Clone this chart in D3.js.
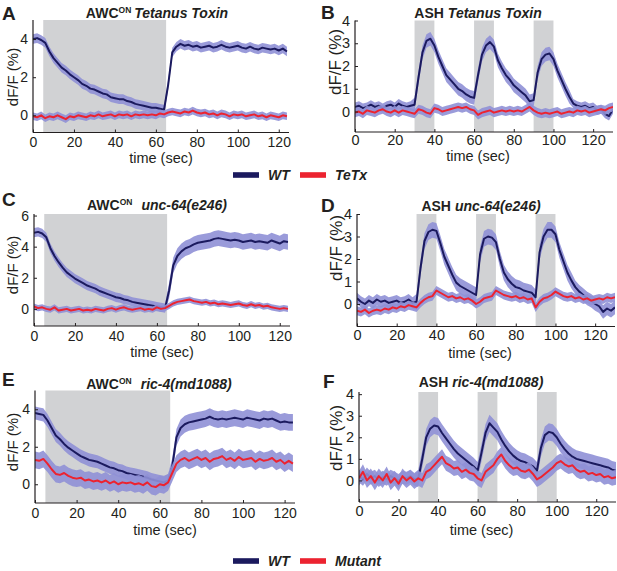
<!DOCTYPE html>
<html>
<meta charset="utf-8">
<style>
  body { margin: 0; background: #fff; }
  text { font-family: Arial, "Liberation Sans", sans-serif; fill: #231f20; }
</style>
<body>
<script src="https://d3js.org/d3.v7.min.js"></script>
<script>
// ---- values (dF/F %, one sample every 2 s) ----
const sampleStep = 2;

const awcStim = [[5, 65]];
const ashStim = [[30, 40], [60, 70], [90, 100]];

const awcXTicks = [0, 20, 40, 60, 80, 100, 120];
const ashXTicks = [0, 20, 40, 60, 80, 100, 120];

// A  AWC-ON  Tetanus Toxin
const aWT = [4.0,4.05,3.95,3.8,3.35,3.0,2.75,2.5,2.35,2.15,2.0,1.85,1.65,1.55,1.4,1.35,1.25,1.15,1.1,0.95,
  0.9,0.85,0.85,0.75,0.7,0.6,0.55,0.5,0.45,0.4,0.4,0.35,0.3,1.6,3.3,3.6,3.75,3.65,3.7,3.6,
  3.65,3.55,3.6,3.65,3.55,3.6,3.7,3.6,3.55,3.6,3.65,3.55,3.5,3.6,3.5,3.45,3.55,3.5,3.45,3.5,3.4,3.5,3.35];
const aMut = [-0.05,-0.1,0.0,-0.15,-0.05,-0.1,0.0,-0.1,-0.2,-0.05,-0.1,0.0,-0.05,-0.1,0.0,-0.05,0.05,-0.05,0.0,0.05,
  -0.05,0.05,0.0,0.05,-0.05,0.05,0.0,0.05,0.0,0.05,0.0,0.1,0.05,0.15,0.2,0.15,0.1,0.2,0.15,0.25,
  0.15,0.1,0.15,0.05,0.1,0.0,0.1,0.05,-0.05,0.05,0.0,0.05,-0.05,0.0,0.05,-0.05,0.0,-0.1,0.0,-0.05,-0.1,0.0,-0.05];

// B  ASH  Tetanus Toxin
const bWT = [0.2,0.25,0.15,0.2,0.3,0.2,0.25,0.15,0.25,0.3,0.2,0.35,0.25,0.2,0.25,0.3,1.5,2.6,3.1,3.2,
  2.9,2.4,2.0,1.6,1.4,1.2,1.0,0.9,0.75,0.65,0.6,1.6,2.5,2.9,3.05,2.85,2.25,1.9,1.6,1.4,
  1.15,1.0,0.85,0.7,0.45,0.5,1.7,2.3,2.5,2.55,2.3,1.8,1.4,1.0,0.65,0.35,0.25,0.2,0.25,0.15,
  0.2,0.05,0.1,-0.1,-0.2,0.1];
const bMut = [-0.05,0.0,-0.1,0.05,0.0,-0.05,0.05,0.1,0.0,-0.05,0.05,-0.05,0.05,0.0,-0.05,-0.1,0.1,0.05,-0.05,-0.1,
  0.15,0.1,0.0,0.05,0.1,0.15,0.2,0.15,0.2,0.1,0.05,-0.15,-0.05,0.0,0.05,-0.05,0.0,0.05,0.0,0.05,
  0.0,0.05,0.0,0.1,0.2,0.05,-0.05,-0.1,-0.05,-0.1,-0.05,0.0,-0.1,-0.05,0.0,-0.05,0.05,0.0,0.05,-0.05,
  0.0,0.05,0.1,0.05,0.15,0.2];

// C  AWC-ON  unc-64(e246)
const cWT = [4.9,4.95,4.85,4.6,3.9,3.4,3.0,2.65,2.35,2.15,1.95,1.8,1.65,1.5,1.4,1.3,1.15,1.05,0.95,0.85,
  0.75,0.7,0.6,0.55,0.45,0.4,0.35,0.3,0.25,0.2,0.15,0.1,0.05,1.2,2.8,3.4,3.7,3.9,4.0,4.15,
  4.25,4.3,4.35,4.4,4.5,4.55,4.5,4.45,4.4,4.45,4.4,4.3,4.35,4.4,4.3,4.35,4.3,4.25,4.4,4.3,4.2,4.35,4.3];
const cMut = [0.15,0.05,0.1,0.0,-0.05,0.1,-0.1,-0.05,0.0,-0.1,-0.05,0.0,-0.1,-0.05,-0.1,0.0,-0.05,-0.1,0.0,0.05,
  -0.05,0.05,0.1,0.0,-0.05,0.0,0.05,-0.05,0.0,-0.05,0.1,0.0,0.05,0.2,0.35,0.45,0.5,0.55,0.6,0.5,
  0.45,0.4,0.45,0.35,0.4,0.3,0.35,0.3,0.25,0.3,0.35,0.25,0.2,0.3,0.2,0.25,0.15,0.2,0.1,0.05,0.0,0.05,0.0];

// D  ASH  unc-64(e246)
const dWT = [0.25,0.1,0.0,0.15,0.05,0.2,0.1,0.15,0.05,0.1,0.15,0.05,0.1,0.2,0.05,0.1,1.6,2.8,3.2,3.3,
  3.25,2.7,2.1,1.7,1.3,0.95,0.8,0.7,0.6,0.5,0.4,2.2,2.9,3.0,2.95,2.75,2.0,1.4,1.1,0.9,
  0.75,0.7,0.6,0.55,0.5,0.3,2.3,3.0,3.3,3.3,3.1,2.4,1.9,1.4,1.05,0.75,0.55,0.4,0.25,0.15,
  0.0,-0.1,-0.35,-0.2,-0.3,-0.15];
const dMut = [-0.3,-0.35,-0.25,-0.4,-0.3,-0.25,-0.3,-0.2,-0.25,-0.15,-0.2,-0.1,-0.15,-0.05,-0.1,-0.15,0.05,0.2,0.3,0.35,
  0.6,0.5,0.4,0.3,0.35,0.25,0.3,0.2,0.25,0.15,0.0,0.1,0.25,0.3,0.35,0.6,0.5,0.4,0.35,0.3,
  0.35,0.25,0.3,0.2,0.25,-0.15,0.1,0.25,0.3,0.4,0.55,0.45,0.35,0.3,0.35,0.25,0.3,0.2,0.25,0.15,
  0.2,0.25,0.2,0.3,0.25,0.3];

// E  AWC-ON  ric-4(md1088)
const eWT = [3.8,3.75,3.7,3.4,3.0,2.6,2.4,2.15,1.95,1.8,1.65,1.5,1.4,1.3,1.25,1.2,1.1,1.0,0.9,0.85,
  0.75,0.7,0.6,0.55,0.5,0.45,0.4,0.35,0.25,0.2,0.15,0.1,0.2,0.95,2.5,3.0,3.2,3.3,3.35,3.4,
  3.45,3.5,3.6,3.5,3.45,3.5,3.45,3.5,3.55,3.5,3.45,3.55,3.5,3.45,3.4,3.5,3.45,3.5,3.4,3.3,3.35,3.3,3.3];
const eMut = [1.3,1.25,1.35,1.1,0.8,0.55,0.5,0.6,0.45,0.35,0.3,0.35,0.2,0.25,0.15,0.2,0.1,0.2,0.05,0.15,
  0.0,0.1,0.05,0.1,0.0,0.05,-0.05,0.1,-0.1,-0.15,0.0,-0.05,0.1,0.6,1.1,1.3,1.4,1.25,1.35,1.45,
  1.3,1.4,1.2,1.35,1.4,1.5,1.3,1.4,1.25,1.45,1.3,1.35,1.4,1.2,1.35,1.25,1.3,1.4,1.2,1.3,1.1,1.25,1.1];

// F  ASH  ric-4(md1088)
const fWT = [0.2,0.05,0.3,0.1,0.2,0.0,0.15,0.05,0.2,0.1,0.0,0.15,0.1,0.2,0.05,0.1,1.0,2.0,2.4,2.55,
  2.5,2.2,1.95,1.7,1.45,1.25,1.1,0.95,0.8,0.65,0.45,1.3,2.2,2.65,2.45,2.25,1.9,1.6,1.35,1.15,
  1.0,0.9,0.85,0.75,0.65,0.45,1.5,2.1,2.25,2.2,2.0,1.7,1.45,1.25,1.1,1.0,0.95,0.9,0.85,0.8,
  0.75,0.7,0.65,0.6,0.5,0.45];
const fMut = [0.1,0.4,0.0,0.2,-0.1,0.2,0.0,0.3,-0.1,0.1,-0.15,0.2,0.0,0.15,-0.05,0.1,0.0,0.4,0.5,0.7,
  0.9,1.1,0.8,0.7,0.55,0.6,0.4,0.5,0.35,0.3,0.1,0.0,0.4,0.55,0.7,1.0,1.2,0.9,0.7,0.55,
  0.6,0.45,0.4,0.5,0.3,0.05,0.15,0.3,0.45,0.6,0.8,0.9,0.75,0.65,0.7,0.5,0.4,0.45,0.3,0.35,
  0.25,0.3,0.15,0.2,0.1,0.15];

// SEM, as [start time, half-width] steps
const aWTsem = [[0, 0.25]], aMutSem = [[0, 0.2]];
const bWTsem = [[0, 0.2], [30, 0.3], [110, 0.2]], bMutSem = [[0, 0.2]];
const cWTsem = [[0, 0.3], [66, 0.5]], cMutSem = [[0, 0.2]];
const dWTsem = [[0, 0.25], [30, 0.35], [110, 0.3]], dMutSem = [[0, 0.2]];
const eWTsem = [[0, 0.35], [66, 0.45]], eMutSem = [[0, 0.45]];
const fWTsem = [[0, 0.3], [30, 0.4]], fMutSem = [[0, 0.35]];

// ---- layout ----
const navy = "#1b1a5e", red = "#ec2330", band = "#8f90d6", shade = "#d1d2d4";

const panels = [
  {letter: "A", lx: 2, ly: 20, cell: "AWC", gene: "Tetanus Toxin", gap: 3, tx: 157, ty: 18,
   left: 33, right: 289, top: 20, bottom: 132.5, xd: [0, 125], yd: [-0.9, 5], yt: [0, 2, 4],
   xt: awcXTicks, stim: awcStim, wt: aWT, mut: aMut, wts: aWTsem, ms: aMutSem,
   tf: 14, tp: 5, ylx: 13, yly: 77, ylf: 15, xly: 163},
  {letter: "B", lx: 321, ly: 19, cell: "ASH", gene: "Tetanus Toxin", gap: 4, tx: 478, ty: 18,
   left: 355, right: 613, top: 20.5, bottom: 132, xd: [0, 130], yd: [-0.9, 4], yt: [0, 1, 2, 3, 4],
   xt: ashXTicks, stim: ashStim, wt: bWT, mut: bMut, wts: bWTsem, ms: bMutSem,
   tf: 14.5, tp: 3, ylx: 335, yly: 62, ylf: 17, xly: 161},
  {letter: "C", lx: 2, ly: 206, cell: "AWC", gene: "unc-64(e246)", gap: 9, tx: 157, ty: 210,
   left: 34, right: 290, top: 214, bottom: 326, xd: [0, 125], yd: [-1.1, 6.1], yt: [0, 2, 4, 6],
   xt: awcXTicks, stim: awcStim, wt: cWT, mut: cMut, wts: cWTsem, ms: cMutSem,
   tf: 14, tp: 5, ylx: 13, yly: 265, ylf: 15, xly: 357},
  {letter: "D", lx: 321, ly: 212, cell: "ASH", gene: "unc-64(e246)", gap: 4, tx: 481, ty: 211,
   left: 357, right: 615, top: 214, bottom: 326.5, xd: [0, 130], yd: [-1, 4], yt: [0, 1, 2, 3, 4],
   xt: ashXTicks, stim: ashStim, wt: dWT, mut: dMut, wts: dWTsem, ms: dMutSem,
   tf: 14.5, tp: 3.5, ylx: 336, yly: 248, ylf: 17, xly: 357.5},
  {letter: "E", lx: 2, ly: 386, cell: "AWC", gene: "ric-4(md1088)", gap: 9, tx: 159, ty: 389,
   left: 35, right: 295, top: 390.5, bottom: 503, xd: [0, 125], yd: [-1, 5], yt: [0, 2, 4],
   xt: awcXTicks, stim: awcStim, wt: eWT, mut: eMut, wts: eWTsem, ms: eMutSem,
   tf: 14, tp: 5, ylx: 13, yly: 442, ylf: 15, xly: 535},
  {letter: "F", lx: 323, ly: 388, cell: "ASH", gene: "ric-4(md1088)", gap: 4, tx: 481, ty: 387,
   left: 359, right: 616, top: 392, bottom: 502, xd: [0, 130], yd: [-1, 4.1], yt: [0, 1, 2, 3, 4],
   xt: ashXTicks, stim: ashStim, wt: fWT, mut: fMut, wts: fWTsem, ms: fMutSem,
   tf: 14.5, tp: 3.5, ylx: 336, yly: 438, ylf: 17, xly: 535}
];

const svg = d3.select("body").append("svg")
    .attr("width", 617).attr("height", 571);

function semAt(steps, t) {
  let s = steps[0][1];
  for (const [t0, v] of steps) if (t >= t0) s = v;
  return s;
}

panels.forEach((p, k) => {
  const x = d3.scaleLinear().domain(p.xd).range([p.left, p.right]);
  const y = d3.scaleLinear().domain(p.yd).range([p.bottom, p.top]);
  const g = svg.append("g");

  // stimulus windows
  g.selectAll("rect.stim").data(p.stim).join("rect")
      .attr("x", d => x(d[0]))
      .attr("width", d => x(d[1]) - x(d[0]))
      .attr("y", y(p.yd[1]))
      .attr("height", y(p.yd[0]) - y(p.yd[1]))
      .attr("fill", shade);

  const clipId = "clip" + k;
  svg.append("clipPath").attr("id", clipId).append("rect")
      .attr("x", p.left).attr("y", p.top - 8)
      .attr("width", p.right - p.left).attr("height", p.bottom - p.top + 8);

  const traces = g.append("g").attr("clip-path", `url(#${clipId})`);
  const series = [
    {vals: p.wt, sem: p.wts, color: navy},
    {vals: p.mut, sem: p.ms, color: red}
  ];
  series.forEach(s => {
    const pts = s.vals.map((v, i) => ({t: i * sampleStep, v: v, e: semAt(s.sem, i * sampleStep)}));
    traces.append("path").datum(pts)
        .attr("fill", band).attr("opacity", 0.9)
        .attr("d", d3.area().x(d => x(d.t)).y0(d => y(d.v - d.e)).y1(d => y(d.v + d.e)));
    traces.append("path").datum(pts)
        .attr("fill", "none").attr("stroke", s.color).attr("stroke-width", 2)
        .attr("stroke-linejoin", "round")
        .attr("d", d3.line().x(d => x(d.t)).y(d => y(d.v)));
  });

  // axes
  const xa = g.append("g").attr("transform", `translate(0,${p.bottom})`)
      .call(d3.axisBottom(x).tickValues(p.xt).tickFormat(d3.format("d"))
            .tickSizeInner(-3).tickSizeOuter(0).tickPadding(p.tp));
  const ya = g.append("g").attr("transform", `translate(${p.left},0)`)
      .call(d3.axisLeft(y).tickValues(p.yt).tickFormat(d3.format("d"))
            .tickSizeInner(-3).tickSizeOuter(0).tickPadding(5));
  [xa, ya].forEach(a => {
    a.select(".domain").attr("stroke", "#231f20").attr("stroke-width", 1.2);
    a.selectAll(".tick line").attr("stroke", "#231f20");
    a.selectAll("text").attr("font-size", p.tf).attr("font-family", "Arial, 'Liberation Sans', sans-serif")
        .attr("fill", "#231f20");
  });
  // the domain lines span only the plotted range
  xa.select(".domain").attr("d", `M${p.left},0H${p.right}`);
  ya.select(".domain").attr("d", `M0,${p.bottom}V${p.top}`);

  // axis labels
  g.append("text").attr("x", (p.left + p.right) / 2 + (p.cell === "ASH" ? -6 : 0)).attr("y", p.xly)
      .attr("text-anchor", "middle").attr("font-size", 14.5).text("time (sec)");
  g.append("text").attr("transform", `translate(${p.ylx},${p.yly}) rotate(-90)`)
      .attr("text-anchor", "middle").attr("dy", "0.35em").attr("font-size", p.ylf).text("dF/F (%)");

  // panel letter
  g.append("text").attr("x", p.lx).attr("y", p.ly).attr("font-size", 19).attr("font-weight", "bold")
      .text(p.letter);

  // title
  const t = g.append("text").attr("x", p.tx).attr("y", p.ty).attr("text-anchor", "middle")
      .attr("font-size", 14).attr("font-weight", "bold");
  t.append("tspan").text(p.cell);
  if (p.cell === "AWC") {
    t.append("tspan").attr("font-size", 8.5).attr("dy", -5).text("ON");
    t.append("tspan").attr("dy", 5).attr("dx", p.gap).attr("font-style", "italic").text(p.gene);
  } else {
    t.append("tspan").attr("dx", p.gap).attr("font-style", "italic").text(p.gene);
  }
});

// legends
const legends = [
  {y: 175, labels: ["WT", "TeTx"]},
  {y: 561, labels: ["WT", "Mutant"]}
];
const legendX = [233, 300];
const legendColors = [navy, red];
legends.forEach(l => {
  const lg = svg.append("g");
  l.labels.forEach((lab, i) => {
    lg.append("rect").attr("x", legendX[i]).attr("y", l.y - 2.8)
        .attr("width", 26).attr("height", 5.6).attr("fill", legendColors[i]);
    lg.append("text").attr("x", legendX[i] + 35).attr("y", l.y + 5)
        .attr("font-size", 14).attr("font-weight", "bold").attr("font-style", "italic").text(lab);
  });
});
</script>
</body>
</html>
